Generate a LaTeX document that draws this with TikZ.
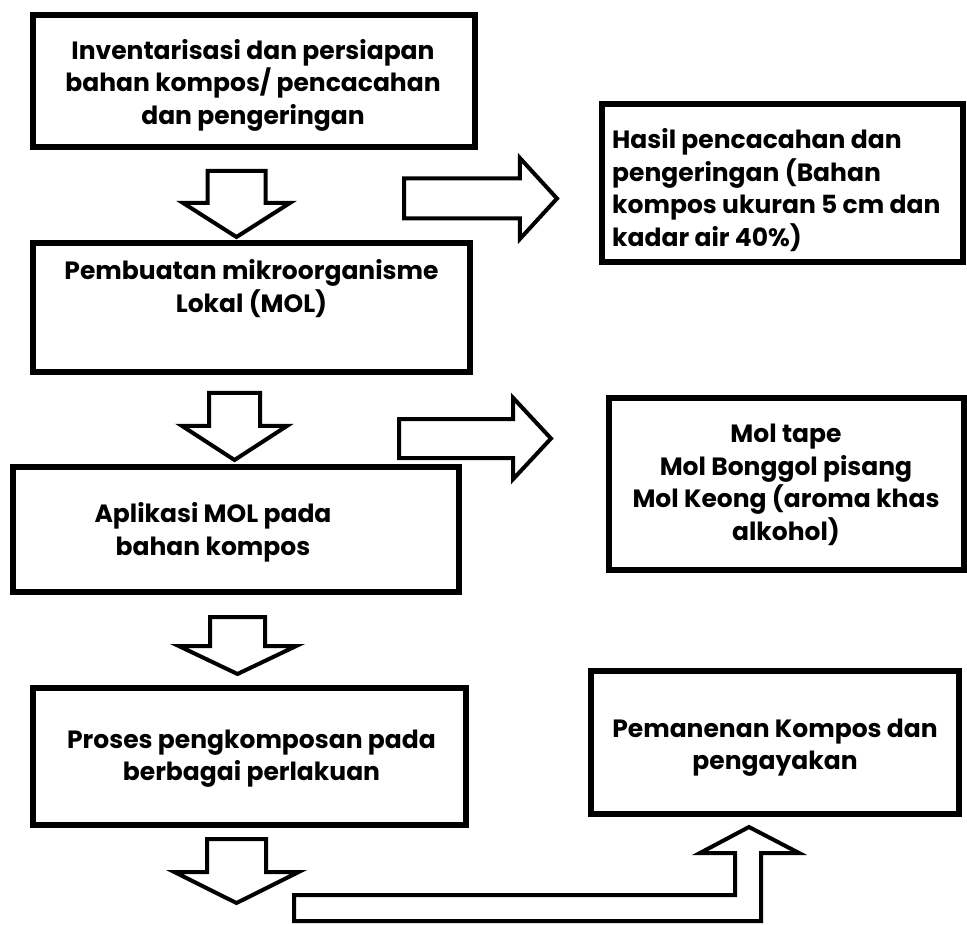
\documentclass[tikz,border=0pt]{standalone}
\usepackage{fontspec}
\setmainfont{Poppins}
\usetikzlibrary{calc, shapes.arrows}

\tikzset{
	kotak/.style={draw, line width=6pt, inner sep=0pt},
	teks/.style={align=center, inner sep=0pt, font=\bfseries\fontsize{25}{32.5}\selectfont},
	panah/.style={single arrow, draw, line width=4pt, inner xsep=0pt, anchor=tail, miter limit=20},
}

\begin{document}
\begin{tikzpicture}[x=1pt, y=-1pt]
					\useasboundingbox (0,0) rectangle (967,925);
					
					\begin{scope}
						\node [kotak, minimum width=442pt, minimum height=132pt] (inventaris) at (254,81) {};
						\node [teks] (inventaris-teks) at ($ (inventaris.center) + (-1,4) $) {Inventarisasi dan persiapan\\bahan kompos/ pencacahan\\dan pengeringan};
						
						\node [kotak, minimum width=437pt, minimum height=129pt] (pembuatan) at (251.5,307.5) {};
						\node [teks] (pembuatan-teks) at ($ (pembuatan.center) + (0,-19) $) {Pembuatan mikroorganisme\\Lokal (MOL)};
						
						\node [kotak, minimum width=361pt, minimum height=158pt] (hasil) at (782,183) {};
						\node [teks, align=left, anchor=west] (hasil-teks) at (612,190) {Hasil pencacahan dan\\pengeringan (Bahan\\kompos ukuran 5 cm dan\\kadar air 40\%)};
						
						\node [kotak, minimum width=446pt, minimum height=125pt] (aplikasi) at (236,529.5) {};
						\node [teks] (aplikasi-teks) at ($ (aplikasi.center) + (-23,3) $) {Aplikasi MOL pada\\bahan kompos};
						
						\node [kotak, minimum width=355pt, minimum height=172pt] (mol) at (786,484) {};
						\node [teks] (mol-teks) at ($ (mol.center) + (0,1) $) {Mol tape\\Mol Bonggol pisang\\Mol Keong (aroma khas\\alkohol)};
						
						\node [kotak, minimum width=433pt, minimum height=137pt] (proses) at (249.5,756.5) {};
						\node [teks] (proses-teks) at ($ (proses.center) + (2,2) $) {Proses pengkomposan pada\\berbagai perlakuan};
						
						\node [kotak, minimum width=368pt, minimum height=143pt] (panen) at (775,742.5) {};
						\node [teks] (panen-teks) at ($ (panen.center) + (0,5) $) {Pemanenan Kompos dan\\pengayakan};
					\end{scope}
					
					\begin{scope}
						\node [panah, inner ysep=27pt, single arrow head extend=24.5pt, minimum height=66pt, single arrow tip angle=115, rotate=-90] (turun1) at (236.5,169) {};
						\node [panah, inner ysep=23.5pt, single arrow head extend=27pt, minimum height=67pt, single arrow tip angle=114, rotate=-90] (turun2) at (234.5,391) {};
						\node [panah, inner ysep=25.5pt, single arrow head extend=31pt, minimum height=57pt, single arrow tip angle=129, rotate=-90] (turun3) at (237.5,615) {};
						\node [panah, inner ysep=27.5pt, single arrow head extend=32.5pt, minimum height=64pt, single arrow tip angle=127, rotate=-90] (turun4) at (236.5,837) {};
						
						\node [panah, inner ysep=18pt, single arrow head extend=20.5pt, minimum height=153pt, single arrow tip angle=95] (kanan1) at (402,198.5) {};
						\node [panah, inner ysep=17.5pt, single arrow head extend=21pt, minimum height=152pt, single arrow tip angle=94] (kanan2) at (397,438.5) {};
					\end{scope}
					
					\begin{scope}
						\coordinate (ujung) at ($ (panen.south) + (-26,10) $);
						\draw [line width=4pt, miter limit=20] (294,895) -- (735,895) -- (735,853) -- (700,853) -- (ujung) -- (799,853) -- (761,853) -- (761,921) -- (294,921) -- cycle;
					\end{scope}
				\end{tikzpicture}
\end{document}
